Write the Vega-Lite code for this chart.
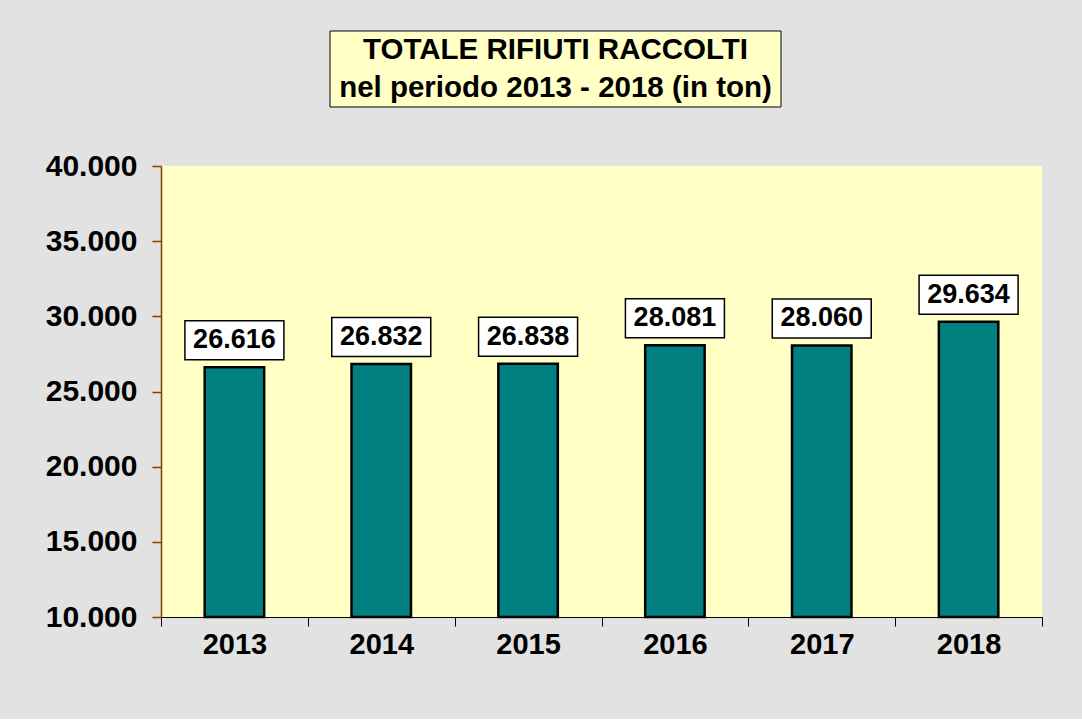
{
  "$schema": "https://vega.github.io/schema/vega-lite/v6.json",
  "background": "#e2e2e2",
  "padding": {"left": 45, "top": 29, "right": 42, "bottom": 60},
  "spacing": 42,
  "datasets": {
    "titolo": [
      {"riga": 1, "testo": "TOTALE  RIFIUTI RACCOLTI"},
      {"riga": 2, "testo": "nel periodo 2013 - 2018 (in ton)"}
    ],
    "rifiuti": [
      {"anno": "2013", "tonnellate": 26616},
      {"anno": "2014", "tonnellate": 26832},
      {"anno": "2015", "tonnellate": 26838},
      {"anno": "2016", "tonnellate": 28081},
      {"anno": "2017", "tonnellate": 28060},
      {"anno": "2018", "tonnellate": 29634}
    ]
  },
  "vconcat": [
    {
      "width": 881,
      "height": 76,
      "view": {"fill": null, "stroke": null},
      "data": {"name": "titolo"},
      "layer": [
        {
          "transform": [{"filter": "datum.riga == 1"}],
          "mark": {"type": "point", "shape": "M-1,-0.1685H1V0.1685H-1Z", "size": 203401, "filled": true, "fill": "#ffffc6", "stroke": "#000000", "strokeWidth": 1, "opacity": 1, "xOffset": -46},
          "encoding": {}
        },
        {
          "mark": {"type": "text", "font": "Liberation Sans", "fontWeight": "bold", "fontSize": 29.5, "baseline": "middle", "align": "center", "color": "#000000", "xOffset": -46},
          "encoding": {
            "y": {"field": "riga", "type": "ordinal", "axis": null, "scale": {"type": "point", "padding": 0.5}},
            "text": {"field": "testo"}
          }
        }
      ]
    },
    {
      "width": 881,
      "height": 451,
      "view": {"fill": "#ffffc6", "stroke": null},
      "data": {"name": "rifiuti"},
      "encoding": {
        "x": {
          "field": "anno", "type": "nominal", "sort": null,
          "scale": {"paddingInner": 0, "paddingOuter": 0},
          "axis": {
            "title": null, "labelAngle": 0, "tickBand": "extent",
            "domainColor": "#000000", "tickColor": "#000000", "tickSize": 9,
            "labelFontSize": 29, "labelPadding": 4, "labelColor": "#000000"
          }
        },
        "y": {
          "field": "tonnellate", "type": "quantitative",
          "scale": {"domain": [10000, 40000], "zero": false, "nice": false},
          "axis": {
            "title": null, "values": [10000, 15000, 20000, 25000, 30000, 35000, 40000],
            "format": ",d", "grid": false,
            "domainColor": "#804000", "tickColor": "#804000", "domainWidth": 1.5, "tickWidth": 1.5,
            "tickSize": 9, "labelFontSize": 30, "labelPadding": 15, "labelColor": "#000000"
          }
        }
      },
      "layer": [
        {
          "mark": {"type": "bar", "color": "#008080", "stroke": "#000000", "strokeWidth": 2.5, "width": {"band": 0.405}},
          "encoding": {"y2": {"datum": 10000}}
        },
        {
          "mark": {"type": "point", "shape": "M-1,-0.394H1V0.394H-1Z", "size": 9801, "filled": true, "fill": "#ffffff", "stroke": "#000000", "strokeWidth": 1.5, "opacity": 1, "yOffset": -27}
        },
        {
          "mark": {"type": "text", "font": "Liberation Sans", "fontWeight": "bold", "fontSize": 27, "baseline": "middle", "align": "center", "yOffset": -27, "color": "#000000"},
          "encoding": {"text": {"field": "tonnellate", "type": "quantitative", "format": ",d"}}
        }
      ]
    }
  ],
  "config": {
    "locale": {"number": {"decimal": ",", "thousands": ".", "grouping": [3], "currency": ["€", ""]}},
    "axis": {"labelFont": "Liberation Sans", "labelFontWeight": "bold"},
    "font": "Liberation Sans"
  }
}
